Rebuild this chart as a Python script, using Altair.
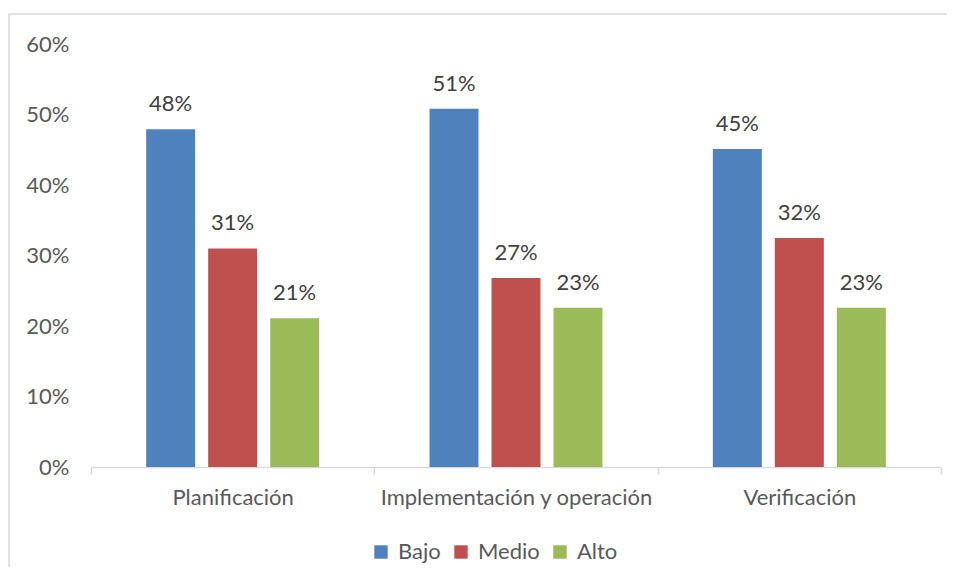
import altair as alt
import pandas as pd

categories = ["Planificación", "Implementación y operación", "Verificación"]
series = ["Bajo", "Medio", "Alto"]
bajo = [0.479, 0.508, 0.451]
medio = [0.310, 0.268, 0.325]
alto = [0.211, 0.226, 0.226]
colors = ["#4F81BD", "#C0504D", "#9BBB59"]

rows = []
for i, c in enumerate(categories):
    for s, vals in zip(series, [bajo, medio, alto]):
        rows.append({"cat": c, "serie": s, "val": vals[i], "lbl": f"{round(vals[i]*100):.0f}%"})
df = pd.DataFrame(rows)

FONT = "Lato"
FS = 22
W, H = 850, 423

x_enc = alt.X("cat:N", sort=categories, title=None,
              scale=alt.Scale(paddingInner=0, paddingOuter=0),
              axis=alt.Axis(labelAngle=0, labelFontSize=FS, labelColor="#595959",
                            labelFont=FONT, domainColor="#D9D9D9", tickColor="#D9D9D9",
                            tickSize=7, tickBand="extent", labelPadding=13, labelLimit=0,
                            domainWidth=1.5, tickWidth=1.5, grid=False))
xoff = alt.XOffset("serie:N", sort=series,
                   scale=alt.Scale(paddingInner=0.21, paddingOuter=0.89))
y_enc = alt.Y("val:Q", title=None,
              scale=alt.Scale(domain=[0, 0.6]),
              axis=alt.Axis(values=[0, 0.1, 0.2, 0.3, 0.4, 0.5, 0.6], format=".0%",
                            labelFontSize=FS, labelColor="#595959", labelFont=FONT,
                            domain=False, ticks=False, grid=False, labelPadding=22))

color = alt.Color("serie:N", sort=series,
                  scale=alt.Scale(domain=series, range=colors),
                  legend=alt.Legend(title=None, orient="none", direction="horizontal",
                                    legendX=279, legendY=497, symbolType="square",
                                    symbolSize=180, symbolStrokeWidth=0,
                                    labelFontSize=FS, labelColor="#595959",
                                    labelFont=FONT, columnPadding=9, labelOffset=6))

base = alt.Chart(df).encode(x=x_enc, xOffset=xoff, y=y_enc)
bars = base.mark_bar().encode(color=color)
labels = base.mark_text(baseline="bottom", dy=-13, fontSize=FS, color="#404040",
                        font=FONT).encode(text="lbl:N")

frame = alt.Chart(pd.DataFrame({"a": [0]})).mark_rect(
    fill=None, stroke="#D9D9D9", strokeWidth=1.5, clip=False
).encode(x=alt.value(-82), x2=alt.value(W + 60), y=alt.value(-30), y2=alt.value(H + 160))

chart = alt.layer(frame, bars, labels).properties(
    width=W, height=H, autosize=alt.AutoSizeParams(type="none"),
    padding={"left": 83, "top": 36, "right": 6, "bottom": 100}
).configure(background="white").configure_view(stroke=None)

chart.save("out.html", embed_options={"renderer": "svg", "actions": False})
